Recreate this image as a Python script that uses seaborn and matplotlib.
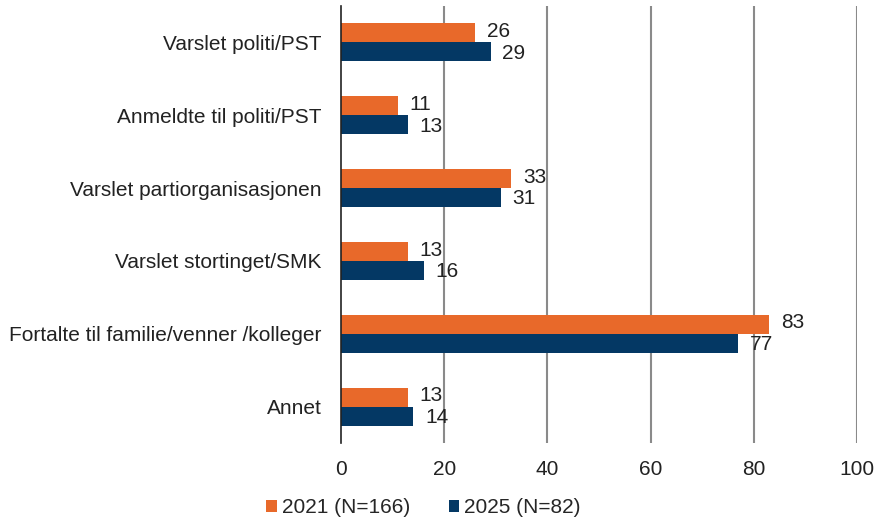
import matplotlib
matplotlib.use("Agg")
import matplotlib.pyplot as plt
import seaborn as sns
import pandas as pd
from matplotlib.patches import Patch

categories = ["Varslet politi/PST", "Anmeldte til politi/PST", "Varslet partiorganisasjonen",
              "Varslet stortinget/SMK", "Fortalte til familie/venner /kolleger", "Annet"]
series_names = ["2021 (N=166)", "2025 (N=82)"]
values_2021 = [26, 11, 33, 13, 83, 13]
values_2025 = [29, 13, 31, 16, 77, 14]
x_ticks = [0, 20, 40, 60, 80, 100]

colors = ["#E8692A", "#043864"]

df = pd.DataFrame({
    "cat": categories * 2,
    "val": values_2021 + values_2025,
    "series": [series_names[0]] * len(categories) + [series_names[1]] * len(categories),
})

sns.set_theme(style="white")
plt.rcParams["font.family"] = ["Liberation Sans", "DejaVu Sans"]

fig = plt.figure(figsize=(8.75, 5.22), dpi=100)
ax = fig.add_axes([0.3897, 0.1513, 0.5897, 0.8372])

sns.barplot(data=df, y="cat", x="val", hue="series", hue_order=series_names,
            order=categories, palette=colors, orient="h", width=0.52,
            ax=ax, legend=False, saturation=1, linewidth=0)

ax.set_xlim(0, 100)
ax.set_xticks(x_ticks)
ax.set_xticklabels([str(t) for t in x_ticks], fontsize=15, color="#222222")
ax.tick_params(axis="x", length=0, pad=12)
ax.tick_params(axis="y", length=0, pad=14)
for lbl in ax.get_yticklabels():
    lbl.set_fontsize(15)
    lbl.set_color("#222222")
ax.set_xlabel("")
ax.set_ylabel("")
for t in x_ticks[1:]:
    ax.axvline(t, color="#8a8a8a", lw=1.5, zorder=0)
for s in ["top", "right", "bottom"]:
    ax.spines[s].set_visible(False)
ax.spines["left"].set_color("#222222")
ax.spines["left"].set_linewidth(1.2)

for i, cont in enumerate(ax.containers):
    for bar, v in zip(cont, values_2021 if i == 0 else values_2025):
        y = bar.get_y() + bar.get_height() / 2
        ax.annotate(str(v), xy=(bar.get_width(), y),
                    xytext=(8.5, 1 if i == 0 else -1), textcoords="offset points",
                    va="center", ha="left", fontsize=15, color="#222222")

handles = [Patch(facecolor=c, edgecolor="none") for c in colors]
fig.legend(handles, series_names, loc="center", bbox_to_anchor=(0.484, 0.027),
           ncol=2, frameon=False, fontsize=15, handlelength=0.5, handleheight=0.5,
           handletextpad=0.25, columnspacing=1.85)

fig.savefig("out.png", dpi=100)
